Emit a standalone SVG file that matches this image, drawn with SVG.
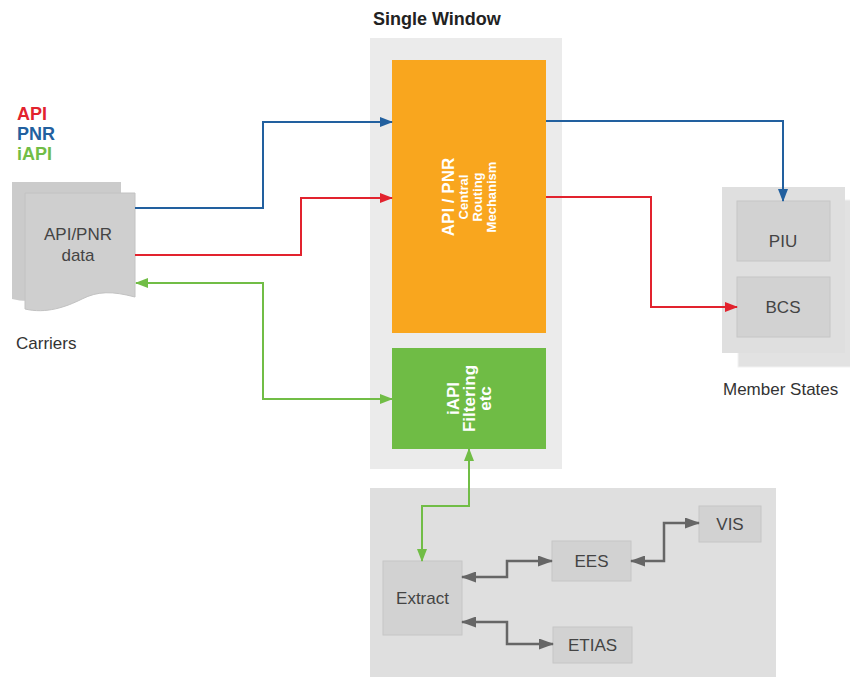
<svg xmlns="http://www.w3.org/2000/svg" width="850" height="677" viewBox="0 0 850 677">
  <style>
    text { font-family: "Liberation Sans", Arial, sans-serif; }
    .lbl { font-size: 17px; fill: #444; text-anchor: middle; }
    .cap { font-size: 17px; fill: #333; }
    .box { fill: #D2D2D2; stroke: #C6C6C6; stroke-width: 1; }
    .wire { fill: none; stroke-width: 2; }
    .blue { stroke: #22609F; }
    .red { stroke: #E2232E; }
    .green { stroke: #71BD46; }
    .gray { stroke: #666; stroke-width: 2.5; }
    .wht { fill: #fff; text-anchor: middle; font-weight: bold; }
  </style>
  <defs>
    <marker id="ah-blue" markerUnits="userSpaceOnUse" markerWidth="13" markerHeight="10" refX="12" refY="5" orient="auto-start-reverse">
      <path d="M0,0 L13,5 L0,10 z" fill="#22609F"/>
    </marker>
    <marker id="ah-red" markerUnits="userSpaceOnUse" markerWidth="13" markerHeight="10" refX="12" refY="5" orient="auto-start-reverse">
      <path d="M0,0 L13,5 L0,10 z" fill="#E2232E"/>
    </marker>
    <marker id="ah-green" markerUnits="userSpaceOnUse" markerWidth="13" markerHeight="10" refX="12" refY="5" orient="auto-start-reverse">
      <path d="M0,0 L13,5 L0,10 z" fill="#71BD46"/>
    </marker>
    <marker id="ah-gray" markerUnits="userSpaceOnUse" markerWidth="15" markerHeight="11" refX="14" refY="5.5" orient="auto-start-reverse">
      <path d="M0,0 L15,5.5 L0,11 z" fill="#666"/>
    </marker>
  </defs>

  <rect width="850" height="677" fill="#fff"/>

  <!-- legend -->
  <g id="legend" font-weight="bold" font-size="18">
    <text x="17" y="120" fill="#E2232E">API</text>
    <text x="17" y="140" fill="#22609F">PNR</text>
    <text x="17" y="160" fill="#71BD46">iAPI</text>
  </g>

  <!-- carriers: stacked document sheets -->
  <g id="carriers">
    <path d="M12,182 H121 V288 C98,282 84,282 68,290 C52,298 32,304 12,299 Z" fill="#CBCBCB"/>
    <path d="M25,193 H135 V297 C112,291 98,291 82,299 C66,307 46,314 25,309 Z" fill="#CFCFCF" stroke="#C2C2C2" stroke-width="1"/>
    <text class="lbl" x="78" y="240">API/PNR</text>
    <text class="lbl" x="78" y="261">data</text>
    <text class="cap" x="16" y="349">Carriers</text>
  </g>

  <!-- single window -->
  <g id="single-window">
    <rect x="370" y="38" width="192" height="431" fill="#EBEBEB"/>
    <text x="373" y="25" font-size="18" font-weight="bold" fill="#222">Single Window</text>
  </g>

  <g id="routing">
    <rect x="392" y="60" width="154" height="273" fill="#F9A61E"/>
    <g transform="translate(0,197) rotate(-90)">
      <text class="wht" x="0" y="454" font-size="17">API / PNR</text>
      <text class="wht" x="0" y="468" font-size="13">Central</text>
      <text class="wht" x="0" y="482" font-size="13">Routing</text>
      <text class="wht" x="0" y="496" font-size="13">Mechanism</text>
    </g>
  </g>

  <g id="filtering">
    <rect x="392" y="348" width="154" height="101" fill="#6FBC45"/>
    <g transform="translate(0,398.5) rotate(-90)">
      <text class="wht" x="0" y="459" font-size="17">iAPI</text>
      <text class="wht" x="0" y="475" font-size="17">Filtering</text>
      <text class="wht" x="0" y="491" font-size="17">etc</text>
    </g>
  </g>

  <!-- member states -->
  <g id="member-states">
    <rect x="738" y="200" width="130" height="167" fill="#E2E2E2" stroke="#F2F2F2" stroke-width="1"/>
    <rect x="722" y="187" width="123" height="166" fill="#DFDFDF"/>
    <text class="cap" x="723" y="395">Member States</text>
  </g>
  <g id="piu">
    <rect class="box" x="737" y="201" width="93" height="60"/>
    <text class="lbl" x="783" y="247">PIU</text>
  </g>
  <g id="bcs">
    <rect class="box" x="737" y="277" width="93" height="60"/>
    <text class="lbl" x="783" y="313">BCS</text>
  </g>

  <!-- back-end systems -->
  <g id="systems">
    <rect x="370" y="488" width="406" height="189" fill="#DFDFDF"/>
  </g>
  <g id="extract">
    <rect class="box" x="383" y="561" width="79" height="74"/>
    <text class="lbl" x="422.5" y="604">Extract</text>
  </g>
  <g id="ees">
    <rect class="box" x="552" y="541" width="79" height="40"/>
    <text class="lbl" x="591.5" y="567">EES</text>
  </g>
  <g id="vis">
    <rect class="box" x="699" y="506" width="62" height="36"/>
    <text class="lbl" x="730" y="530">VIS</text>
  </g>
  <g id="etias">
    <rect class="box" x="553" y="627" width="79" height="36"/>
    <text class="lbl" x="592.5" y="651">ETIAS</text>
  </g>

  <!-- connectors -->
  <g id="connectors">
    <path class="wire blue" d="M135,208 H263 V122 H392" marker-end="url(#ah-blue)"/>
    <path class="wire red" d="M135,255 H301 V198 H392" marker-end="url(#ah-red)"/>
    <path class="wire green" d="M136,283 H263 V399 H392" marker-start="url(#ah-green)" marker-end="url(#ah-green)"/>
    <path class="wire blue" d="M546,121 H783 V201" marker-end="url(#ah-blue)"/>
    <path class="wire red" d="M546,197 H651 V307 H737" marker-end="url(#ah-red)"/>
    <path class="wire green" d="M469,449 V506 H422 V561" marker-start="url(#ah-green)" marker-end="url(#ah-green)"/>
    <path class="wire gray" d="M462,577 H507 V561 H552" marker-start="url(#ah-gray)" marker-end="url(#ah-gray)"/>
    <path class="wire gray" d="M631,561 H664 V523 H699" marker-start="url(#ah-gray)" marker-end="url(#ah-gray)"/>
    <path class="wire gray" d="M462,622 H507 V644 H553" marker-start="url(#ah-gray)" marker-end="url(#ah-gray)"/>
  </g>
</svg>
